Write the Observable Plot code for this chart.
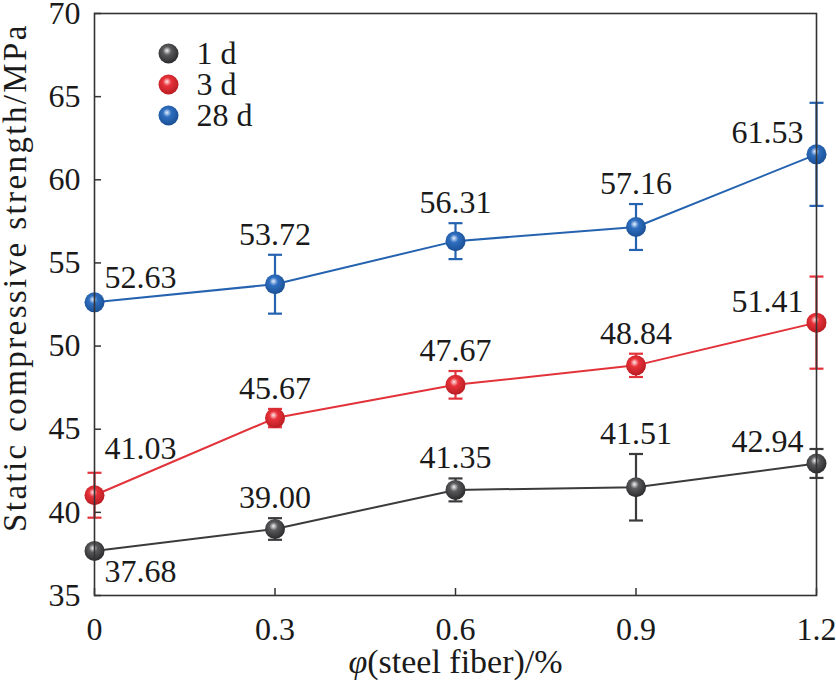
<!DOCTYPE html>
<html><head><meta charset="utf-8">
<script src="https://cdn.jsdelivr.net/npm/d3@7"></script>
<script src="https://cdn.jsdelivr.net/npm/@observablehq/plot@0.6"></script>
</head><body style="margin:0;background:#fff;font-family:'Liberation Serif',serif">
<div aria-hidden="true" style="position:absolute;left:0;top:0;width:1px;height:1px;overflow:hidden;opacity:0;font-family:'Liberation Serif';font-size:32px">0123456789.Sd</div>
<div id="chart" style="font-family:'Liberation Serif',serif"></div>
<script>
const fiber = [0, 0.3, 0.6, 0.9, 1.2];
const xTicks = [0, 0.3, 0.6, 0.9, 1.2];
const xTickLabels = ["0", "0.3", "0.6", "0.9", "1.2"];
const yTicks = [35, 40, 45, 50, 55, 60, 65, 70];
const seriesNames = ["1 d", "3 d", "28 d"];
const seriesColors = ["#3b3b3d", "#e2323a", "#2563b0"];
const val1d = [37.68, 39.00, 41.35, 41.51, 42.94];
const err1d = [0, 0.65, 0.69, 2.0, 0.87];
const val3d = [41.03, 45.67, 47.67, 48.84, 51.41];
const err3d = [1.35, 0.55, 0.83, 0.7, 2.77];
const val28d = [52.63, 53.72, 56.31, 57.16, 61.53];
const err28d = [0, 1.77, 1.08, 1.38, 3.1];
const labels1d = ["37.68", "39.00", "41.35", "41.51", "42.94"];
const labels3d = ["41.03", "45.67", "47.67", "48.84", "51.41"];
const labels28d = ["52.63", "53.72", "56.31", "57.16", "61.53"];

const FONT = "Liberation Serif";
const vals = [val1d, val3d, val28d];
const errs = [err1d, err3d, err28d];
const labs = [labels1d, labels3d, labels28d];

const rows = [];
seriesNames.forEach((s, k) => {
  fiber.forEach((x, i) => {
    const v = vals[k][i], e = errs[k][i];
    let kind;
    if (i === 0) kind = (k === 0) ? "firstBelow" : "firstAbove";
    else if (i === fiber.length - 1) kind = "last";
    else kind = "mid";
    rows.push({series: s, k, x, v, e, lo: v - e, hi: v + e, label: labs[k][i], kind});
  });
});

const gradIds = ["g1d", "g3d", "g28d"];
const capSymbol = {draw(ctx) { ctx.moveTo(-7, 0); ctx.lineTo(7, 0); }};

const marks = [];
seriesNames.forEach((s, k) => {
  const d = rows.filter(r => r.k === k);
  marks.push(Plot.line(d, {x: "x", y: "v", stroke: seriesColors[k], strokeWidth: 2}));
  const de = d.filter(r => r.e > 0);
  marks.push(Plot.ruleX(de, {x: "x", y1: "lo", y2: "hi", stroke: seriesColors[k], strokeWidth: 2.2}));
  marks.push(Plot.dot(de, {x: "x", y: "hi", symbol: capSymbol, stroke: seriesColors[k], strokeWidth: 2.2, fill: "none"}));
  marks.push(Plot.dot(de, {x: "x", y: "lo", symbol: capSymbol, stroke: seriesColors[k], strokeWidth: 2.2, fill: "none"}));
});
seriesNames.forEach((s, k) => {
  const d = rows.filter(r => r.k === k);
  marks.push(Plot.dot(d, {x: "x", y: "v", r: 10, fill: `url(#${gradIds[k]})`, stroke: "none"}));
});
const txt = {fill: "#1a1a1a", fontSize: 32, fontFamily: FONT, text: "label", lineAnchor: "bottom"};
marks.push(Plot.text(rows.filter(r => r.kind === "firstAbove"), {...txt, x: "x", y: "hi", dx: 10, dy: -14, textAnchor: "start"}));
marks.push(Plot.text(rows.filter(r => r.kind === "firstBelow"), {...txt, x: "x", y: "v", dx: 10, dy: 31, textAnchor: "start"}));
marks.push(Plot.text(rows.filter(r => r.kind === "mid"), {...txt, x: "x", y: "hi", dy: -10, textAnchor: "middle"}));
marks.push(Plot.text(rows.filter(r => r.kind === "last"), {...txt, x: "x", y: "v", dx: -13, dy: -11, textAnchor: "end"}));

// legend
seriesNames.forEach((s, k) => {
  marks.push(Plot.dot([s], {frameAnchor: "top-left", dx: 74, dy: 40 + k * 31, r: 10, fill: `url(#${gradIds[k]})`, stroke: "none"}));
  marks.push(Plot.text([s], {frameAnchor: "top-left", dx: 102, dy: 40 + k * 31, text: d => d, fontSize: 32, fontFamily: FONT, fill: "#1a1a1a", textAnchor: "start", lineAnchor: "middle"}));
});

marks.push(Plot.frame({stroke: "#333", strokeWidth: 1.6}));
marks.push(Plot.axisX({ticks: xTicks, tickFormat: (d, i) => xTickLabels[i], tickSize: -7, tickPadding: 29, fontSize: 32, fontFamily: FONT, label: "φ(steel fiber)/%", labelArrow: "none", labelAnchor: "center", labelOffset: 77, stroke: "#333", strokeWidth: 1.5}));
marks.push(Plot.axisY({ticks: yTicks, tickFormat: d => String(d), tickSize: -7, tickPadding: 21, fontSize: 32, fontFamily: FONT, label: "Static compressive strength/MPa", labelArrow: "none", labelAnchor: "center", labelOffset: 92, stroke: "#333", strokeWidth: 1.5}));

const chart = Plot.plot({
  width: 836,
  height: 686,
  marginLeft: 94,
  marginRight: 20,
  marginTop: 13,
  marginBottom: 91,
  style: {fontFamily: FONT, color: "#1a1a1a", background: "#fff"},
  x: {domain: [0, 1.2]},
  y: {domain: [35, 70]},
  marks
});

const svg = d3.select(chart);
svg.attr("font-family", FONT);
svg.selectAll("g").filter(function() { return this.hasAttribute("font-family"); }).attr("font-family", FONT);
svg.selectAll("text").attr("font-family", FONT);

// sphere gradients
const defs = svg.insert("defs", ":first-child");
const gradStops = [
  ["#f4f4f4", "#5a5a5c", "#2a2a2c"],
  ["#ffe8e8", "#e8323a", "#b81c22"],
  ["#e8f0ff", "#2f6fc0", "#1a4f94"]
];
gradIds.forEach((id, k) => {
  const g = defs.append("radialGradient").attr("id", id).attr("cx", "45%").attr("cy", "40%").attr("r", "60%").attr("fx", "42%").attr("fy", "35%");
  g.append("stop").attr("offset", "0%").attr("stop-color", gradStops[k][0]);
  g.append("stop").attr("offset", "35%").attr("stop-color", gradStops[k][1]);
  g.append("stop").attr("offset", "100%").attr("stop-color", gradStops[k][2]);
});
// axis titles
const yl = svg.select('g[aria-label="y-axis label"]');
yl.attr("transform", ((yl.attr("transform") || "") + " translate(0,-27)").trim());
yl.attr("font-size", 33);
yl.selectAll("text").attr("font-size", 33).attr("letter-spacing", 2.4);
const xl = svg.select('g[aria-label="x-axis label"]');
xl.attr("font-size", 34);
const xlText = xl.select("text");
if (!xlText.empty()) {
  xlText.attr("font-size", 34);
  const t = xlText.text();
  xlText.text("");
  xlText.append("tspan").attr("font-style", "italic").text(t.slice(0, 1));
  xlText.append("tspan").text(t.slice(1));
}
document.getElementById("chart").appendChild(chart);
</script>
</body></html>
